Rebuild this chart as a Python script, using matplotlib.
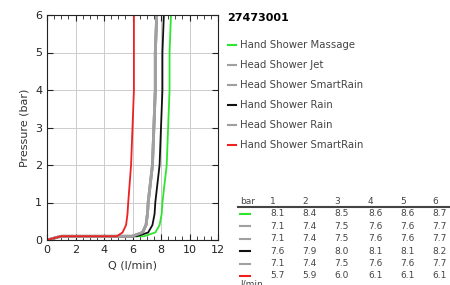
import matplotlib
matplotlib.use("Agg")
import matplotlib.pyplot as plt
from matplotlib.lines import Line2D
from matplotlib.ticker import MultipleLocator

names = ["Hand Shower Massage", "Head Shower Jet", "Head Shower SmartRain",
         "Hand Shower Rain", "Head Shower Rain", "Hand Shower SmartRain"]
colors = ["#2ee52e", "#a0a0a0", "#a0a0a0", "#111111", "#a0a0a0", "#ee2020"]

# flow values read at pressure 1..6 bar
bars = [1, 2, 3, 4, 5, 6]
table = [
    [8.1, 8.4, 8.5, 8.6, 8.6, 8.7],
    [7.1, 7.4, 7.5, 7.6, 7.6, 7.7],
    [7.1, 7.4, 7.5, 7.6, 7.6, 7.7],
    [7.6, 7.9, 8.0, 8.1, 8.1, 8.2],
    [7.1, 7.4, 7.5, 7.6, 7.6, 7.7],
    [5.7, 5.9, 6.0, 6.1, 6.1, 6.1],
]

# low pressure part of the curves (Q, p)
low_q = [
    [0, 1.0, 6.8, 7.6, 7.9, 8.05],
    [0, 1.0, 6.0, 6.7, 6.95, 7.05],
    [0, 1.0, 6.0, 6.7, 6.95, 7.05],
    [0, 1.0, 6.3, 7.1, 7.4, 7.55],
    [0, 1.0, 6.0, 6.7, 6.95, 7.05],
    [0, 1.0, 4.9, 5.3, 5.55, 5.65],
]
low_p = [0, 0.1, 0.1, 0.2, 0.4, 0.7]

fig = plt.figure(figsize=(4.5, 2.85), dpi=100)
ax = fig.add_axes([47 / 450, 45 / 285, 171 / 450, 225 / 285])

for i in range(len(names)):
    q = low_q[i] + table[i]
    p = low_p + bars
    lw = 2.0 if colors[i] == "#a0a0a0" else 1.3
    ax.plot(q, p, color=colors[i], lw=lw, label=names[i])

ax.set_xlim(0, 12)
ax.set_ylim(0, 6)
ax.xaxis.set_major_locator(MultipleLocator(2))
ax.xaxis.set_minor_locator(MultipleLocator(0.5))
ax.yaxis.set_major_locator(MultipleLocator(1))
ax.tick_params(which="both", direction="in", top=True, right=True, labelsize=8,
               colors="#222222")
ax.tick_params(which="major", length=4)
ax.tick_params(which="minor", length=3, left=False, right=False)
ax.grid(True, color="#cccccc", lw=0.7)
ax.set_axisbelow(True)
ax.set_xlabel("Q (l/min)", fontsize=8, color="#333333")
ax.set_ylabel("Pressure (bar)", fontsize=8, color="#333333")
for s in ax.spines.values():
    s.set_color("#222222")

fig.text(227 / 450, 1 - 18 / 285, "27473001", fontsize=8, fontweight="bold",
         va="center", ha="left")
for i in range(len(names)):
    y = 1 - (45 + 20 * i) / 285
    fig.add_artist(Line2D([228 / 450, 236 / 450], [y, y], color=colors[i], lw=1.5))
    fig.text(240 / 450, y, names[i], fontsize=7.3, color="#444444", va="center")

# value table
col_x = [270, 302, 334, 368, 400, 432]
hy = 1 - 202 / 285
fig.text(240 / 450, hy, "bar", fontsize=6.5, color="#444444", va="center")
for j in range(len(bars)):
    fig.text(col_x[j] / 450, hy, str(bars[j]), fontsize=6.5, color="#444444",
             va="center", ha="left")
fig.add_artist(Line2D([238 / 450, 1.0], [1 - 207 / 285] * 2, color="#444444", lw=1.5))
for i in range(len(names)):
    y = 1 - (214 + 12.4 * i) / 285
    fig.add_artist(Line2D([240 / 450, 250 / 450], [y, y], color=colors[i], lw=1.5))
    for j in range(len(bars)):
        fig.text(col_x[j] / 450, y, "%.1f" % table[i][j], fontsize=6.5,
                 color="#444444", va="center", ha="left")
fig.text(240 / 450, 1 - 284 / 285, "l/min", fontsize=6.5, color="#444444", va="center")

fig.savefig("out.png", dpi=100)
